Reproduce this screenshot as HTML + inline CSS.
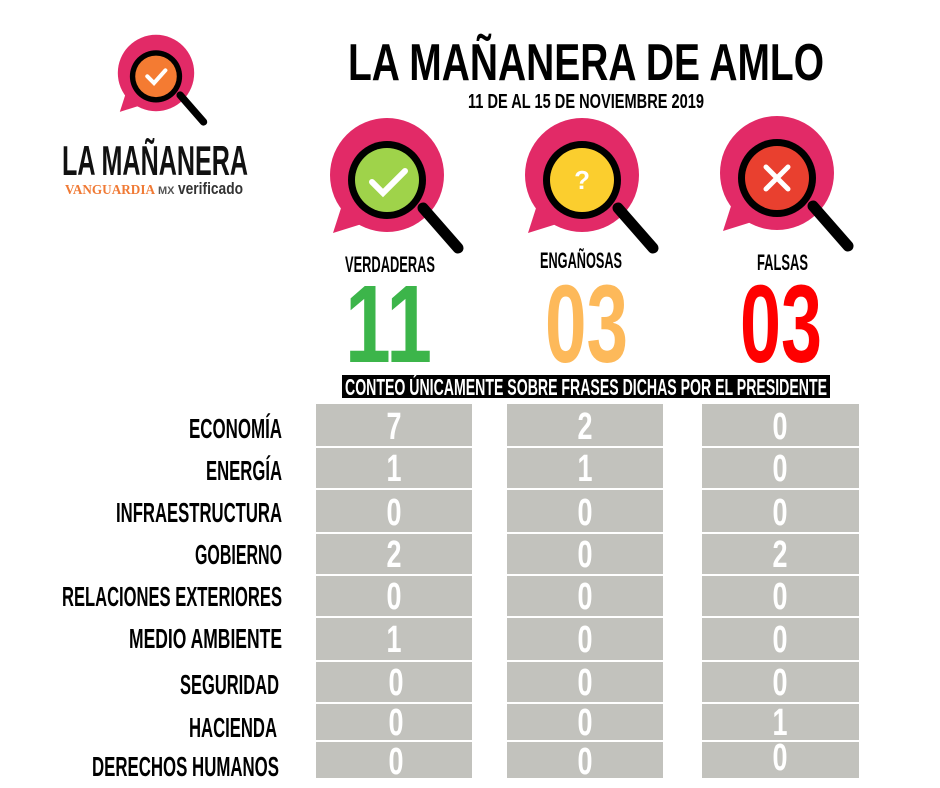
<!DOCTYPE html>
<html><head><meta charset="utf-8"><style>
html,body{margin:0;padding:0;background:#fff;width:940px;height:788px;overflow:hidden}
text{font-family:"Liberation Sans Narrow","Liberation Sans",sans-serif;font-weight:bold}
</style></head><body>
<svg width="940" height="788" viewBox="0 0 940 788" xmlns="http://www.w3.org/2000/svg">
<defs>
<g id="bub">
<circle cx="0" cy="0" r="57" fill="#e22a67"/>
<path d="M-45,30 L-54,58 L-22,48 Z" fill="#e22a67"/>
<line x1="36" y1="33" x2="71" y2="73" stroke="#000" stroke-width="11" stroke-linecap="round"/>
<circle cx="0" cy="5" r="39" fill="#000"/>
</g>
</defs>
<g transform="translate(156,73) scale(0.67)">
<use href="#bub"/><circle cx="0" cy="5" r="31" fill="#f47b32"/>
<path d="M-13,5 L-3,15 L14,-4" fill="none" stroke="#fff" stroke-width="6" stroke-linecap="round"/>
</g>
<text x="62" y="175" font-size="42" textLength="186" lengthAdjust="spacingAndGlyphs" fill="#111" font-weight="normal">LA MAÑANERA</text>
<text x="65" y="194" font-size="14" textLength="90" lengthAdjust="spacingAndGlyphs" fill="#f07a35" style="font-family:'Liberation Serif',serif">VANGUARDIA</text>
<text x="158" y="194" font-size="11" fill="#555" font-weight="normal">MX</text>
<text x="178" y="194" font-size="17" textLength="65" lengthAdjust="spacingAndGlyphs" fill="#333" font-weight="normal" style="font-family:'Liberation Sans',sans-serif">verificado</text>
<text x="348" y="80" font-size="52" textLength="476" lengthAdjust="spacingAndGlyphs" fill="#000">LA MAÑANERA DE AMLO</text>
<text x="468" y="108" font-size="20" textLength="236" lengthAdjust="spacingAndGlyphs" fill="#000" font-weight="normal">11 DE AL 15 DE NOVIEMBRE 2019</text>
<g transform="translate(387,175)"><use href="#bub"/><circle cx="0" cy="5" r="32" fill="#9fd34a"/>
<path d="M-15,7 L-4,18 L18,-4" fill="none" stroke="#fff" stroke-width="6" stroke-linecap="round"/></g>
<g transform="translate(582,175)"><use href="#bub"/><circle cx="0" cy="5" r="32" fill="#fbce2e"/>
<text x="0" y="14" font-size="26" text-anchor="middle" fill="#fff">?</text></g>
<g transform="translate(777,173)"><use href="#bub"/><circle cx="0" cy="5" r="32" fill="#e9402f"/>
<path d="M-11,-6 L11,16 M11,-6 L-11,16" stroke="#fff" stroke-width="5" stroke-linecap="round"/></g>
<text x="345" y="272" font-size="22" textLength="90" lengthAdjust="spacingAndGlyphs" fill="#000" font-weight="normal">VERDADERAS</text>
<text x="540" y="268" font-size="22" textLength="82" lengthAdjust="spacingAndGlyphs" fill="#000" font-weight="normal">ENGAÑOSAS</text>
<text x="757" y="270" font-size="22" textLength="51" lengthAdjust="spacingAndGlyphs" fill="#000" font-weight="normal">FALSAS</text>
<text x="345" y="362" font-size="110" textLength="87" lengthAdjust="spacingAndGlyphs" fill="#3cb54a">11</text>
<text x="545" y="362" font-size="110" textLength="83" lengthAdjust="spacingAndGlyphs" fill="#fdb95a">03</text>
<text x="740" y="362" font-size="110" textLength="82" lengthAdjust="spacingAndGlyphs" fill="#ff0000">03</text>
<rect x="342" y="375" width="488" height="23" fill="#000"/>
<text x="345" y="395" font-size="23" textLength="482" lengthAdjust="spacingAndGlyphs" fill="#fff">CONTEO ÚNICAMENTE SOBRE FRASES DICHAS POR EL PRESIDENTE</text>
<g fill="#c2c2bd">
<rect x="316" y="404" width="156" height="42"/><rect x="507" y="404" width="156" height="42"/><rect x="702" y="404" width="157" height="42"/>
<rect x="316" y="448" width="156" height="40"/><rect x="507" y="448" width="156" height="40"/><rect x="702" y="448" width="157" height="40"/>
<rect x="316" y="490" width="156" height="42"/><rect x="507" y="490" width="156" height="42"/><rect x="702" y="490" width="157" height="42"/>
<rect x="316" y="534" width="156" height="40"/><rect x="507" y="534" width="156" height="40"/><rect x="702" y="534" width="157" height="40"/>
<rect x="316" y="576" width="156" height="40"/><rect x="507" y="576" width="156" height="40"/><rect x="702" y="576" width="157" height="40"/>
<rect x="316" y="618" width="156" height="42"/><rect x="507" y="618" width="156" height="42"/><rect x="702" y="618" width="157" height="42"/>
<rect x="316" y="662" width="156" height="40"/><rect x="507" y="662" width="156" height="40"/><rect x="702" y="662" width="157" height="40"/>
<rect x="316" y="704" width="156" height="36"/><rect x="507" y="704" width="156" height="36"/><rect x="702" y="704" width="157" height="36"/>
<rect x="316" y="742" width="156" height="36"/><rect x="507" y="742" width="156" height="36"/><rect x="702" y="742" width="157" height="36"/>
</g>
<g font-size="38" fill="#fff" text-anchor="middle">
<text x="394" y="439" textLength="15" lengthAdjust="spacingAndGlyphs">7</text><text x="585" y="439" textLength="15" lengthAdjust="spacingAndGlyphs">2</text><text x="780" y="439" textLength="15" lengthAdjust="spacingAndGlyphs">0</text>
<text x="394" y="481" textLength="15" lengthAdjust="spacingAndGlyphs">1</text><text x="585" y="481" textLength="15" lengthAdjust="spacingAndGlyphs">1</text><text x="780" y="481" textLength="15" lengthAdjust="spacingAndGlyphs">0</text>
<text x="394" y="525" textLength="15" lengthAdjust="spacingAndGlyphs">0</text><text x="585" y="525" textLength="15" lengthAdjust="spacingAndGlyphs">0</text><text x="780" y="525" textLength="15" lengthAdjust="spacingAndGlyphs">0</text>
<text x="394" y="567" textLength="15" lengthAdjust="spacingAndGlyphs">2</text><text x="585" y="567" textLength="15" lengthAdjust="spacingAndGlyphs">0</text><text x="780" y="567" textLength="15" lengthAdjust="spacingAndGlyphs">2</text>
<text x="394" y="609" textLength="15" lengthAdjust="spacingAndGlyphs">0</text><text x="585" y="609" textLength="15" lengthAdjust="spacingAndGlyphs">0</text><text x="780" y="609" textLength="15" lengthAdjust="spacingAndGlyphs">0</text>
<text x="394" y="652" textLength="15" lengthAdjust="spacingAndGlyphs">1</text><text x="585" y="652" textLength="15" lengthAdjust="spacingAndGlyphs">0</text><text x="780" y="652" textLength="15" lengthAdjust="spacingAndGlyphs">0</text>
<text x="396" y="695" textLength="15" lengthAdjust="spacingAndGlyphs">0</text><text x="585" y="695" textLength="15" lengthAdjust="spacingAndGlyphs">0</text><text x="780" y="695" textLength="15" lengthAdjust="spacingAndGlyphs">0</text>
<text x="396" y="735" textLength="15" lengthAdjust="spacingAndGlyphs">0</text><text x="585" y="735" textLength="15" lengthAdjust="spacingAndGlyphs">0</text><text x="780" y="735" textLength="15" lengthAdjust="spacingAndGlyphs">1</text>
<text x="396" y="774" textLength="15" lengthAdjust="spacingAndGlyphs">0</text><text x="585" y="774" textLength="15" lengthAdjust="spacingAndGlyphs">0</text><text x="780" y="770" textLength="15" lengthAdjust="spacingAndGlyphs">0</text>
</g>
<g font-size="28" fill="#000" text-anchor="end" font-weight="normal">
<text x="282" y="438" textLength="93" lengthAdjust="spacingAndGlyphs">ECONOMÍA</text>
<text x="282" y="480" textLength="76" lengthAdjust="spacingAndGlyphs">ENERGÍA</text>
<text x="282" y="522" textLength="166" lengthAdjust="spacingAndGlyphs">INFRAESTRUCTURA</text>
<text x="282" y="564" textLength="87" lengthAdjust="spacingAndGlyphs">GOBIERNO</text>
<text x="282" y="606" textLength="220" lengthAdjust="spacingAndGlyphs">RELACIONES EXTERIORES</text>
<text x="282" y="648" textLength="153" lengthAdjust="spacingAndGlyphs">MEDIO AMBIENTE</text>
<text x="279" y="694" textLength="99" lengthAdjust="spacingAndGlyphs">SEGURIDAD</text>
<text x="277" y="737" textLength="88" lengthAdjust="spacingAndGlyphs">HACIENDA</text>
<text x="279" y="776" textLength="187" lengthAdjust="spacingAndGlyphs">DERECHOS HUMANOS</text>
</g>
</svg>
</body></html>
